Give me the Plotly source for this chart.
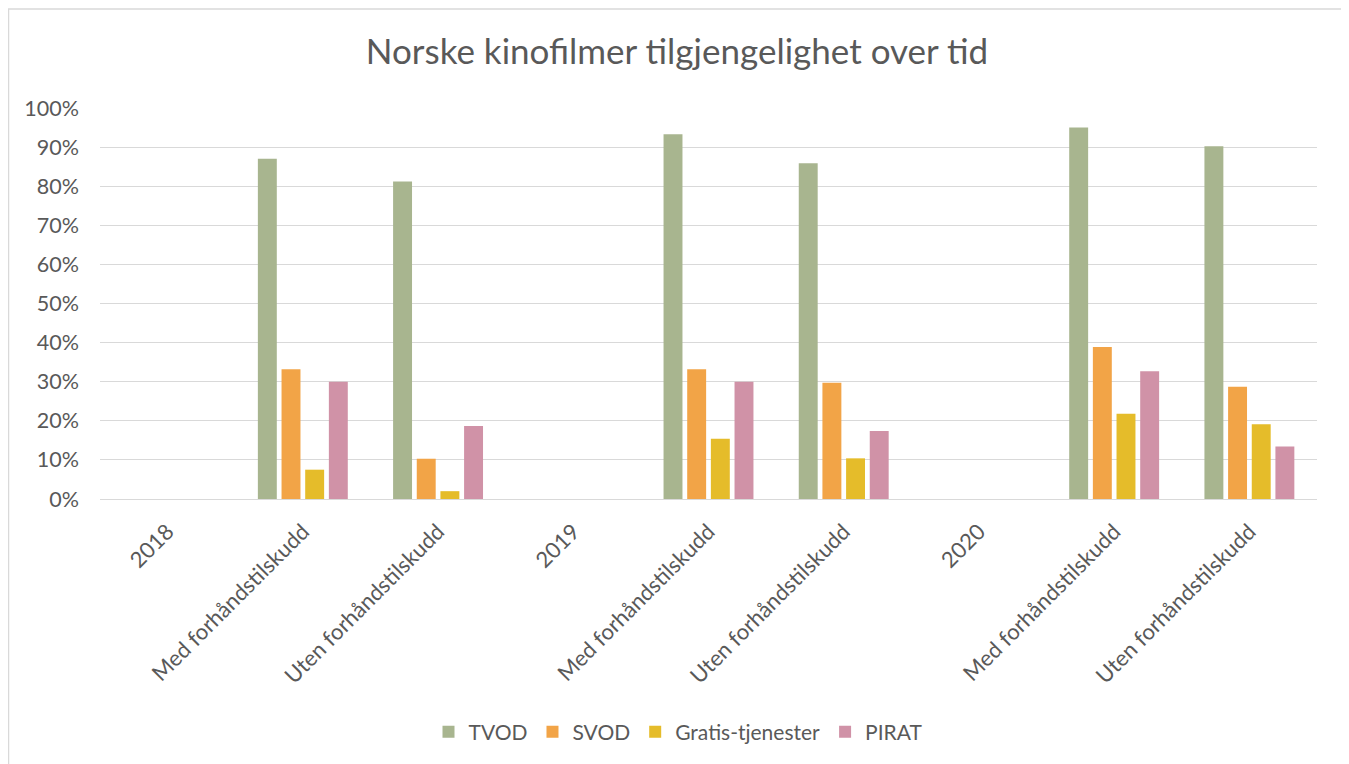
import plotly.graph_objects as go

categories = ["2018", "Med forhåndstilskudd", "Uten forhåndstilskudd",
              "2019", "Med forhåndstilskudd", "Uten forhåndstilskudd",
              "2020", "Med forhåndstilskudd", "Uten forhåndstilskudd"]
positions = list(range(len(categories)))

tvod = [None, 0.870, 0.812, None, 0.933, 0.859, None, 0.950, 0.902]
svod = [None, 0.332, 0.103, None, 0.332, 0.297, None, 0.389, 0.287]
gratis = [None, 0.075, 0.020, None, 0.154, 0.104, None, 0.218, 0.191]
pirat = [None, 0.300, 0.187, None, 0.300, 0.174, None, 0.327, 0.134]

series_names = ["TVOD", "SVOD", "Gratis-tjenester", "PIRAT"]
series_values = [tvod, svod, gratis, pirat]
colors = ["#A8B58F", "#F2A447", "#E5BC2A", "#D092A7"]

FONT = "Lato"
GRAY = "#595959"

W, H = 1341, 756
L, T, R, B = 92, 100, 32, 265
PW, PH = W - L - R, H - T - B

fig = go.Figure()
for name, vals, col in zip(series_names, series_values, colors):
    fig.add_trace(go.Bar(x=positions, y=vals, name=name,
                         marker=dict(color=col, line=dict(width=0))))

fig.update_layout(
    width=W, height=H,
    margin=dict(l=L, r=R, t=T, b=B),
    paper_bgcolor="white", plot_bgcolor="white",
    barmode="group", bargap=0.3, bargroupgap=0.2,
    font=dict(family=FONT, color=GRAY, size=21),
    title=dict(text="Norske kinofilmer tilgjengelighet over tid",
               x=669 / W, xanchor="center", y=1 - 44 / H, yanchor="middle",
               font=dict(size=35, color=GRAY, family=FONT)),
    legend=dict(orientation="h", x=(670 - L) / PW, xanchor="center",
                y=-(724 - (T + PH)) / PH, yanchor="middle",
                font=dict(size=21, color=GRAY), itemsizing="constant",
                traceorder="normal"),
    xaxis=dict(tickmode="array", tickvals=positions, ticktext=categories,
               tickangle=-45, range=[-0.5, 8.5], showgrid=False,
               showline=True, linecolor="#D9D9D9", linewidth=1,
               ticks="", ticklabelstandoff=10,
               tickfont=dict(size=22, color=GRAY)),
    yaxis=dict(range=[0, 1], dtick=0.1, tickformat=".0%",
               showgrid=True, gridcolor="#D9D9D9", gridwidth=1,
               zeroline=False, showline=False, ticks="",
               ticklabelstandoff=20,
               tickfont=dict(size=21.5, color=GRAY)),
)

fig.add_shape(type="rect", xref="paper", yref="paper",
              x0=(0.5 - L) / PW, x1=(1337 - L) / PW,
              y0=-(H + 20 - (T + PH)) / PH, y1=(T + PH - 1) / PH,
              line=dict(color="#D9D9D9", width=1.5), fillcolor="rgba(0,0,0,0)",
              layer="below")

fig.write_html("out.html")
